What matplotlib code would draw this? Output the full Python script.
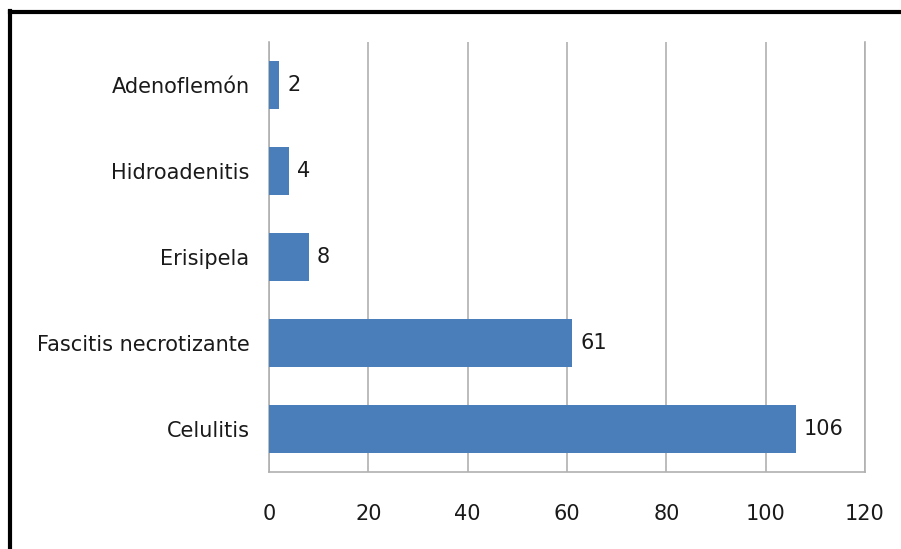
import matplotlib
matplotlib.use("Agg")
import matplotlib.pyplot as plt
from matplotlib.lines import Line2D

categories = ["Celulitis", "Fascitis necrotizante", "Erisipela", "Hidroadenitis", "Adenoflemón"]
values = [106, 61, 8, 4, 2]
xticks = [0, 20, 40, 60, 80, 100, 120]

BAR = "#4a7ebb"
GRID = "#b0b0b0"
TEXT = "#1a1a1a"

plt.rcParams.update({"font.family": "DejaVu Sans", "font.size": 15})

fig = plt.figure(figsize=(9.01, 5.49), dpi=100)
ax = fig.add_axes([0.2986, 0.1403, 0.6615, 0.7832])

ypos = range(len(categories))
ax.barh(ypos, values, height=0.56, color=BAR, zorder=3)
for y, v in zip(ypos, values):
    ax.annotate(str(v), (v, y), xytext=(6, 0), textcoords="offset points",
                va="center", ha="left", fontsize=15, color=TEXT)

ax.set_xlim(0, 120)
ax.set_ylim(-0.5, len(categories) - 0.5)
ax.set_xticks(xticks)
ax.set_yticks(list(ypos))
ax.set_yticklabels(categories)
ax.tick_params(axis="both", length=0, labelcolor=TEXT)
ax.tick_params(axis="x", pad=23)
ax.tick_params(axis="y", pad=14)
ax.xaxis.grid(True, color=GRID, linewidth=1.2, zorder=0)
ax.set_axisbelow(True)
ax.spines["top"].set_visible(False)
for s in ["left", "bottom", "right"]:
    ax.spines[s].set_color(GRID)
    ax.spines[s].set_linewidth(1.2)

# outer frame (left and top edges visible)
fig.add_artist(Line2D([0.011, 0.011], [0, 0.98], transform=fig.transFigure, color="black", linewidth=3))
fig.add_artist(Line2D([0.011, 1.0], [0.978, 0.978], transform=fig.transFigure, color="black", linewidth=3))

fig.savefig("out.png", dpi=100)
